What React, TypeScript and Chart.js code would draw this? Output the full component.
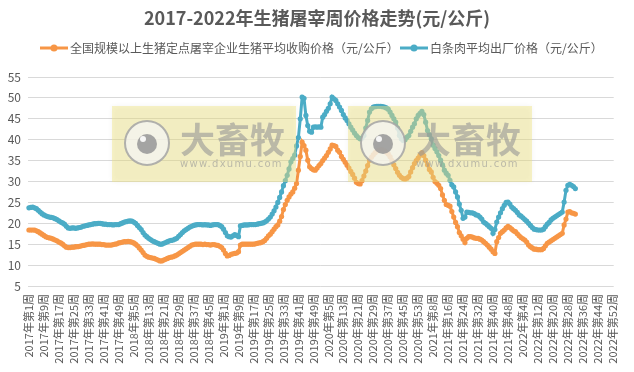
import React, { useEffect, useRef } from "react";
import { Chart, registerables } from "chart.js";

Chart.register(...registerables);

const TITLE = "2017-2022年生猪屠宰周价格走势(元/公斤)";
const SERIES_NAMES = [
  "全国规模以上生猪定点屠宰企业生猪平均收购价格（元/公斤）",
  "白条肉平均出厂价格（元/公斤）",
];
const YEARS = [2017, 2018, 2019, 2020, 2021, 2022];
const WEEKS_PER_YEAR = [52, 52, 52, 53, 52, 52];
const TICK_LABELS = [
  "2017年第1周", "2017年第9周", "2017年第17周", "2017年第25周", "2017年第33周", "2017年第41周", "2017年第49周",
  "2018年第5周", "2018年第13周", "2018年第21周", "2018年第29周", "2018年第37周", "2018年第45周",
  "2019年第1周", "2019年第9周", "2019年第17周", "2019年第25周", "2019年第33周", "2019年第41周", "2019年第49周",
  "2020年第5周", "2020年第13周", "2020年第21周", "2020年第29周", "2020年第37周", "2020年第45周", "2020年第53周",
  "2021年第8周", "2021年第16周", "2021年第24周", "2021年第32周", "2021年第40周", "2021年第48周",
  "2022年第4周", "2022年第12周", "2022年第20周", "2022年第28周", "2022年第36周", "2022年第44周", "2022年第52周",
];

// 全国规模以上生猪定点屠宰企业生猪平均收购价格 (weekly, from 2017 week 1)
const PURCHASE_PRICE = [
  18.4, 18.4, 18.4, 18.4, 18.2, 18.0, 17.7, 17.4, 17.1, 16.8,
  16.6, 16.5, 16.4, 16.2, 16.0, 15.8, 15.5, 15.3, 15.0, 14.6,
  14.3, 14.2, 14.2, 14.3, 14.3, 14.4, 14.4, 14.5, 14.6, 14.7,
  14.8, 14.9, 15.0, 15.0, 15.1, 15.0, 15.0, 15.0, 15.0, 14.9,
  14.9, 14.8, 14.8, 14.8, 14.8, 14.9, 15.0, 15.1, 15.3, 15.4,
  15.5, 15.6, 15.6, 15.7, 15.6, 15.5, 15.3, 15.0, 14.6, 14.1,
  13.6, 13.0, 12.4, 12.1, 11.9, 11.8, 11.7, 11.6, 11.4, 11.2,
  11.0, 11.0, 11.2, 11.4, 11.6, 11.8, 11.9, 12.0, 12.2, 12.4,
  12.7, 13.0, 13.3, 13.6, 13.9, 14.2, 14.5, 14.8, 14.9, 15.0,
  15.0, 15.0, 15.0, 14.9, 15.0, 14.9, 14.9, 14.8, 14.9, 14.9,
  14.8, 14.7, 14.5, 14.2, 13.6, 12.8, 12.2, 12.3, 12.6, 12.7,
  12.8, 12.9, 13.2, 14.8, 15.0, 15.0, 15.0, 15.0, 15.0, 15.0,
  15.0, 15.1, 15.2, 15.3, 15.4, 15.6, 15.9, 16.4, 17.0, 17.4,
  18.0, 18.6, 19.2, 19.6, 20.5, 21.6, 23.3, 24.5, 25.5, 26.3,
  27.0, 27.5, 28.4, 29.5, 32.7, 36.0, 39.4, 38.6, 37.5, 35.1,
  33.5, 33.1, 32.8, 32.7, 33.2, 33.8, 34.3, 35.0, 35.6, 36.2,
  37.0, 37.8, 38.7, 38.6, 38.4, 37.5, 37.0, 36.0, 35.3, 34.6,
  33.9, 33.2, 32.4, 31.7, 30.8, 29.8, 29.5, 29.4, 30.2, 31.3,
  32.5, 33.8, 35.1, 35.8, 36.4, 36.9, 37.3, 37.5, 37.6, 37.5,
  37.3, 37.0, 36.6, 35.9, 35.0, 34.0, 33.1, 32.2, 31.5, 31.0,
  30.7, 30.6, 30.8, 31.2, 32.3, 33.3, 34.3, 35.0, 35.6, 36.3,
  36.9, 36.2, 35.1, 34.0, 32.9, 32.3, 31.0, 30.0, 29.6, 29.1,
  28.3, 26.8, 25.5, 24.5, 24.3, 24.1, 22.8, 21.5, 20.2, 19.2,
  17.8, 17.0, 16.2, 15.4, 16.4, 16.8, 16.8, 16.7, 16.5, 16.4,
  16.4, 16.2, 16.0, 15.6, 15.2, 14.8, 14.3, 13.8, 13.2, 12.8,
  15.6, 16.6, 17.6, 18.0, 18.4, 18.9, 19.3, 19.0, 18.6, 18.2,
  18.0, 17.5, 17.0, 16.6, 16.3, 16.0, 15.5, 14.8, 14.4, 14.1,
  13.8, 13.8, 13.7, 13.7, 13.7, 14.0, 14.6, 15.2, 15.5, 15.8,
  16.1, 16.4, 16.7, 17.0, 17.3, 17.6, 19.6, 21.0, 22.7, 22.8,
  22.5, 22.4, 22.2,
];

// 白条肉平均出厂价格 (weekly, from 2017 week 1)
const CARCASS_PRICE = [
  23.7, 23.8, 23.9, 23.7, 23.5, 23.1, 22.7, 22.3, 22.0, 21.8,
  21.6, 21.5, 21.4, 21.3, 21.1, 20.9, 20.6, 20.3, 20.1, 19.8,
  19.3, 18.9, 18.8, 18.9, 18.9, 18.8, 18.9, 19.0, 19.1, 19.3,
  19.4, 19.5, 19.6, 19.7, 19.8, 19.9, 19.9, 20.0, 20.0, 19.9,
  19.8, 19.8, 19.7, 19.7, 19.7, 19.6, 19.7, 19.7, 19.7, 19.9,
  20.1, 20.3, 20.4, 20.5, 20.6, 20.5, 20.3, 20.0, 19.5, 19.0,
  18.5, 17.8, 17.2, 16.8, 16.4, 16.1, 15.8, 15.6, 15.4, 15.2,
  15.0, 15.0, 15.2, 15.4, 15.6, 15.8, 15.9, 16.0, 16.2, 16.4,
  16.9, 17.3, 17.8, 18.2, 18.5, 18.8, 19.1, 19.3, 19.5, 19.6,
  19.7, 19.7, 19.7, 19.6, 19.7, 19.6, 19.6, 19.5, 19.6, 19.7,
  19.7, 19.7, 19.5, 19.2, 18.6, 17.8, 17.0, 16.8, 16.7, 17.0,
  17.3, 17.1, 16.8, 19.4, 19.5, 19.6, 19.6, 19.6, 19.7, 19.7,
  19.7, 19.7, 19.8, 19.9, 20.0, 20.1, 20.3, 20.6, 21.0, 21.5,
  22.2, 23.0, 23.9, 25.0, 26.2, 27.5, 29.0, 30.2, 31.5, 33.0,
  34.7, 35.5, 36.3, 38.5, 40.5, 45.0, 50.2, 49.9, 45.8, 43.4,
  42.0, 41.8, 43.0, 43.1, 43.0, 43.1, 43.0, 45.4, 46.0, 46.8,
  47.5, 48.6, 50.2, 49.8, 49.4, 48.6, 47.8, 47.0, 46.0, 45.2,
  44.6, 43.8, 43.0, 42.3, 41.6, 41.0, 40.5, 40.2, 40.4, 41.0,
  42.8, 44.6, 46.6, 47.4, 47.8, 47.9, 48.0, 48.0, 48.0, 47.9,
  47.8, 47.6, 47.3, 46.6, 45.8, 45.0, 44.2, 42.8, 41.0, 40.2,
  39.8, 40.0, 40.6, 41.0, 42.0, 43.0, 43.8, 45.0, 45.8, 46.3,
  46.8, 46.0, 44.2, 42.2, 41.2, 40.2, 38.7, 37.9, 37.1, 36.2,
  35.1, 34.0, 32.7, 32.0, 31.5, 30.3, 29.2, 28.7, 27.5, 26.3,
  24.6, 23.1, 21.2, 21.5, 22.7, 22.6, 22.5, 22.5, 22.3, 22.0,
  21.9, 21.5, 21.0, 20.3, 20.0, 19.6, 19.2, 18.8, 17.6, 18.5,
  20.3, 21.5, 22.5, 23.5, 24.3, 25.0, 25.1, 24.6, 23.9, 23.5,
  23.1, 22.6, 22.0, 21.7, 21.3, 20.9, 20.5, 20.0, 19.5, 19.0,
  18.6, 18.5, 18.4, 18.4, 18.4, 18.6, 19.2, 19.8, 20.2, 20.8,
  21.2, 21.5, 21.8, 22.1, 22.4, 22.7, 25.1, 27.9, 29.1, 29.3,
  29.1, 28.8, 28.3,
];

const Y_MIN = 5;
const Y_MAX = 55;
const Y_STEP = 5;

const COLORS = ["#F79646", "#4BACC6"];
const FONT = "'Noto Sans CJK SC', 'Noto Sans', sans-serif";
const TEXT_COLOR = "#595959";
const GRID_COLOR = "#d9d9d9";

function buildCategories(): string[] {
  const out: string[] = [];
  YEARS.forEach((y, i) => {
    for (let w = 1; w <= WEEKS_PER_YEAR[i]; w++) out.push(`${y}年第${w}周`);
  });
  return out;
}

// Title and legend drawn like the spreadsheet header (title centred on the page,
// legend entries = line + marker followed by the series name)
const headerPlugin = {
  id: "sheetHeader",
  afterDraw(chart: any) {
    const ctx = chart.ctx as CanvasRenderingContext2D;
    ctx.save();
    ctx.fillStyle = TEXT_COLOR;
    ctx.font = `bold 18px ${FONT}`;
    ctx.textAlign = "center";
    ctx.textBaseline = "middle";
    ctx.fillText(TITLE, 317, 18);

    const y = 48;
    const starts = [40, 400];
    ctx.font = `12px ${FONT}`;
    ctx.textAlign = "left";
    chart.data.datasets.forEach((ds: any, i: number) => {
      const x = starts[i];
      const color = ds.borderColor;
      ctx.strokeStyle = color;
      ctx.lineWidth = 3;
      ctx.beginPath();
      ctx.moveTo(x, y);
      ctx.lineTo(x + 28, y);
      ctx.stroke();
      ctx.fillStyle = color;
      ctx.beginPath();
      ctx.arc(x + 14, y, 3.5, 0, Math.PI * 2);
      ctx.fill();
      ctx.fillStyle = TEXT_COLOR;
      ctx.fillText(ds.label, x + 30, y + 0.5);
    });
    ctx.restore();
  },
};

const watermarkPlugin = {
  id: "watermark",
  afterDatasetsDraw(chart: any) {
    const ctx = chart.ctx as CanvasRenderingContext2D;
    const boxes = [
      [112, 106],
      [348, 106],
    ];
    for (const [bx, by] of boxes) {
      ctx.save();
      ctx.shadowColor = "rgba(0,0,0,0.10)";
      ctx.shadowBlur = 5;
      ctx.fillStyle = "rgba(240,228,130,0.45)";
      ctx.fillRect(bx, by, 184, 76);
      ctx.restore();

      const cx = bx + 35;
      const cy = by + 37;
      ctx.save();
      ctx.beginPath();
      ctx.arc(cx, cy, 22, 0, Math.PI * 2);
      ctx.fillStyle = "rgba(244,244,244,0.75)";
      ctx.fill();
      ctx.lineWidth = 2;
      ctx.strokeStyle = "rgba(165,165,165,0.85)";
      ctx.stroke();
      ctx.beginPath();
      ctx.arc(cx, cy + 1, 10, 0, Math.PI * 2);
      ctx.fillStyle = "rgba(150,150,150,0.85)";
      ctx.fill();
      ctx.beginPath();
      ctx.arc(cx - 4, cy - 4, 3, 0, Math.PI * 2);
      ctx.fillStyle = "rgba(255,255,255,0.9)";
      ctx.fill();

      ctx.fillStyle = "rgba(150,150,150,0.6)";
      ctx.textAlign = "left";
      ctx.textBaseline = "alphabetic";
      ctx.font = `bold 35px ${FONT}`;
      ctx.fillText("大畜牧", bx + 68, by + 47);
      ctx.font = `10px 'DejaVu Sans', sans-serif`;
      (ctx as any).letterSpacing = "1.3px";
      ctx.fillText("www.dxumu.com", bx + 68, by + 61);
      ctx.restore();
    }
  },
};

export default function App() {
  const canvasRef = useRef<HTMLCanvasElement | null>(null);

  useEffect(() => {
    document.body.style.margin = "0";
    const canvas = canvasRef.current;
    if (!canvas) return;
    const categories = buildCategories();
    const tickSet = new Set(TICK_LABELS);

    const chart = new Chart(canvas, {
      type: "line",
      data: {
        labels: categories,
        datasets: [
          {
            label: SERIES_NAMES[0],
            data: PURCHASE_PRICE,
            borderColor: COLORS[0],
            backgroundColor: COLORS[0],
            borderWidth: 3,
            pointRadius: 2.6,
            pointBorderWidth: 0,
            pointBackgroundColor: COLORS[0],
            tension: 0,
          },
          {
            label: SERIES_NAMES[1],
            data: CARCASS_PRICE,
            borderColor: COLORS[1],
            backgroundColor: COLORS[1],
            borderWidth: 3,
            pointRadius: 2.6,
            pointBorderWidth: 0,
            pointBackgroundColor: COLORS[1],
            tension: 0,
          },
        ],
      },
      options: {
        responsive: false,
        animation: false,
        devicePixelRatio: 1,
        layout: { padding: { left: 0, right: 15, top: 77, bottom: 0 } },
        plugins: {
          title: { display: false },
          legend: { display: false },
          tooltip: { enabled: false },
        },
        scales: {
          x: {
            type: "category",
            offset: true,
            grid: { display: false, drawTicks: false },
            border: { display: false },
            ticks: {
              autoSkip: false,
              minRotation: 90,
              maxRotation: 90,
              padding: 8,
              color: TEXT_COLOR,
              font: { family: FONT, size: 11 },
              callback: function (this: any, _v: any, index: number) {
                const lbl = categories[index];
                return tickSet.has(lbl) ? lbl : "";
              },
            },
            afterFit: (scale: any) => {
              scale.height = 86;
            },
          },
          y: {
            min: Y_MIN,
            max: Y_MAX,
            grid: { color: GRID_COLOR, drawTicks: false, lineWidth: 1 },
            border: { display: false },
            ticks: {
              stepSize: Y_STEP,
              padding: 7,
              color: TEXT_COLOR,
              font: { family: FONT, size: 12 },
            },
            afterFit: (scale: any) => {
              scale.width = 28;
            },
          },
        },
      },
      plugins: [watermarkPlugin, headerPlugin],
    });
    return () => chart.destroy();
  }, []);

  return (
    <div style={{ width: 634, height: 372, background: "#fff" }}>
      <canvas ref={canvasRef} width={634} height={372} />
    </div>
  );
}
